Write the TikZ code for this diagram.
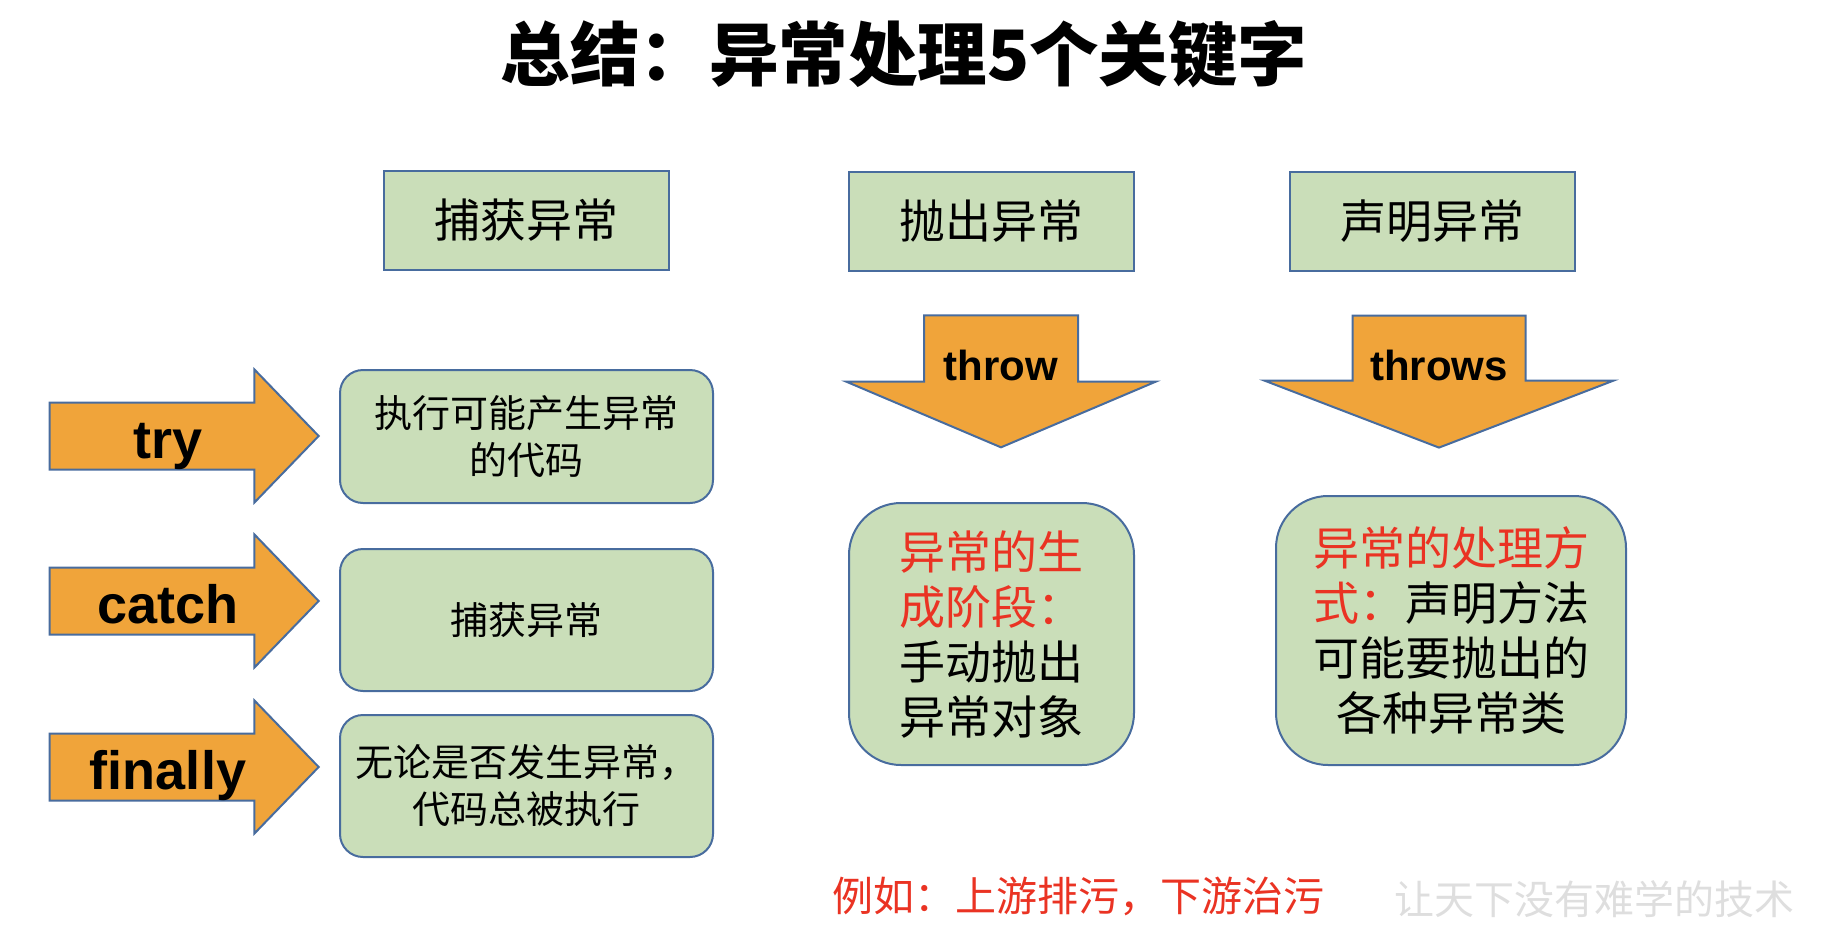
\documentclass[tikz,border=0pt]{standalone}
\usepackage{fontspec}
\setmainfont{Liberation Sans}
\newfontfamily\cjk{Noto Sans CJK SC}
\usepackage{tikz}
\usetikzlibrary{positioning, shapes.arrows}
\definecolor{boxgreen}{RGB}{202,222,185}
\definecolor{edgeblue}{RGB}{72,108,158}
\definecolor{keyorange}{RGB}{240,164,58}
\definecolor{notered}{RGB}{234,51,35}
\definecolor{markgray}{RGB}{222,222,222}

\begin{document}
\begin{tikzpicture}[x=1pt, y=-1pt,
        headbox/.style={draw=edgeblue, line width=2pt, fill=boxgreen, minimum width=285pt, minimum height=99pt, font=\fontsize{46}{54}\selectfont\cjk},
        codebox/.style={draw=edgeblue, line width=2pt, fill=boxgreen, rounded corners=23pt, minimum width=373pt, align=center, font=\fontsize{38}{47}\selectfont\cjk},
        notebox/.style={draw=edgeblue, line width=2pt, fill=boxgreen, rounded corners=52pt, align=center, font=\fontsize{46}{55}\selectfont\cjk},
        keyarrow/.style={single arrow, draw=edgeblue, line width=2pt, fill=keyorange, single arrow head extend=33pt, single arrow tip angle=92, minimum height=269pt, minimum width=133pt, inner xsep=0pt, inner ysep=10.5pt, text height=44pt, text depth=0pt, font=\fontsize{54}{60}\selectfont\bfseries},
        droparrow/.style={single arrow, shape border rotate=270, draw=edgeblue, line width=2pt, fill=keyorange, minimum height=132pt, inner sep=0pt, align=center, font=\fontsize{42}{50}\selectfont\bfseries}
    ]
        \useasboundingbox (0,0) rectangle (1824,932);

        \node[font=\fontsize{69.5}{76}\selectfont\cjk\bfseries] (title) at (904,54) {总结：异常处理5个关键字};

        \node[headbox] (catchhead) at (526.5,220.5) {捕获异常};
        \node[headbox] (throwhead) at (991.5,221.5) {抛出异常};
        \node[headbox] (declhead) at (1432,221.5) {声明异常};

        \node[codebox, minimum height=133pt] (trybox) at (526.5,436.5) {执行可能产生异常\\的代码};
        \node[codebox, minimum height=142pt] (catchbox) at (526.5,620) {捕获异常};
        \node[codebox, minimum height=142pt] (finbox) at (526.5,786) {无论是否发生异常，\\代码总被执行};

        \node[keyarrow] (tryarr) at (168,436) {try};
        \node[keyarrow] (catcharr) at (168,601) {catch};
        \node[keyarrow] (finarr) at (168,767) {finally};

        \node[droparrow, text width=152pt, minimum width=308pt, single arrow head extend=78pt, single arrow tip angle=134] (throwarr) at (1001,365) {throw};
        \node[droparrow, text width=171pt, minimum width=347pt, single arrow head extend=88pt, single arrow tip angle=138] (throwsarr) at (1439,365) {throws};

        \node[notebox, minimum width=285pt, minimum height=262pt] (throwbox) at (991.5,634) {\color{notered}异常的生\\\color{notered}成阶段：\\手动抛出\\异常对象};
        \node[notebox, minimum width=350pt, minimum height=269pt] (throwsbox) at (1451,630.5) {\color{notered}异常的处理方\\{\color{notered}式：}声明方法\\可能要抛出的\\各种异常类};

        \node[font=\fontsize{41}{48}\selectfont\cjk, text=notered] (example) at (1078,896) {例如：上游排污，下游治污};
        \node[font=\fontsize{40}{48}\selectfont\cjk, text=markgray] (mark) at (1594,899) {让天下没有难学的技术};
    \end{tikzpicture}
\end{document}
